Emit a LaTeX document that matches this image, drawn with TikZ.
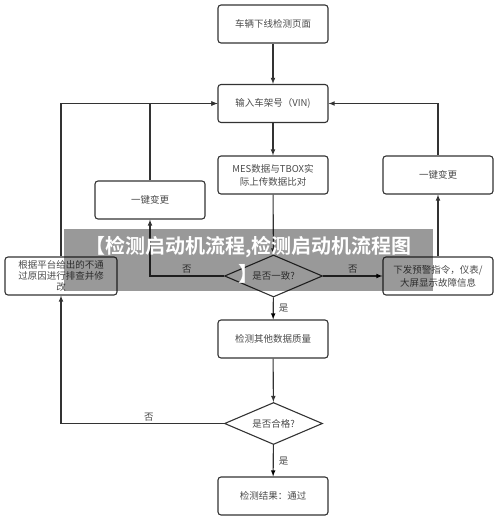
\documentclass[tikz,border=0pt]{standalone}
\usepackage{fontspec}
\setmainfont{Noto Sans CJK SC}[BoldFont={Noto Sans CJK SC Bold}]
\usetikzlibrary{shapes.geometric}
\definecolor{linecol}{HTML}{333333}
\definecolor{textcol}{HTML}{4a4a4a}
\begin{document}
\begin{tikzpicture}[x=1pt,y=-1pt,>=latex]
\tikzstyle{Block} = [draw=linecol, rounded corners=3, line width=1.1, minimum width=110, minimum height=38, text=textcol, font={\fontsize{9.5}{13}\selectfont}, align=center, inner sep=0]
\tikzstyle{Decision} = [draw=linecol, shape=diamond, aspect=2.3, line width=1.1, minimum width=98, minimum height=42, text=textcol, font={\fontsize{9.5}{13}\selectfont}, inner sep=0]
\tikzstyle{Label} = [text=textcol, font={\fontsize{9.5}{13}\selectfont}, inner sep=2]
\tikzstyle{Banner} = [fill=black, fill opacity=0.4, text opacity=1, text=white, minimum width=369, minimum height=62, text width=350, align=center, font={\fontsize{20}{28}\selectfont\bfseries}]
\useasboundingbox (0,0) rectangle (500,521);
\node [Block] (v1) at (273,24) {车辆下线检测页面};
\node [Block] (v2) at (273,103.5) {输入车架号（VIN)};
\node [Block] (v3) at (273,175) {MES数据与TBOX实\\际上传数据比对};
\node [Block] (v4) at (150,200) {一键变更};
\node [Block] (v5) at (438,175) {一键变更};
\node [Decision] (v6) at (273.5,276) {是否一致?};
\node [Block, minimum width=112] (v7) at (61,276) {\smash{\raisebox{-3pt}{\begin{tabular}[c]{@{}c@{}}根据平台给出的不通\\[-2pt]过原因进行排查并修\\[-2pt]改\end{tabular}}}};
\node [Block] (v8) at (438,276) {下发预警指令，仪表/\\大屏显示故障信息};
\node [Block] (v9) at (273,339) {检测其他数据质量};
\node [Decision] (v10) at (273.5,423.5) {是否合格?};
\node [Block] (v11) at (273,496) {检测结果：通过};
\draw [->, draw=linecol, line width=1.1] (v1) -- (v2);
\draw [->, draw=linecol, line width=1.1] (v2) -- (v3);
\draw [->, draw=linecol, line width=1.1] (v3) -- (v6);
\draw [->, draw=linecol, line width=1.1] (v6) -| (v4) node[Label,pos=0.25,above] {否};
\draw [->, draw=linecol, line width=1.1] (v4) |- (v2);
\draw [->, draw=linecol, line width=1.1] (v7) |- (v2);
\draw [->, draw=linecol, line width=1.1] (v6) edge node[Label,midway,above] {否} (v8);
\draw [->, draw=linecol, line width=1.1] (v8) -- (v5);
\draw [->, draw=linecol, line width=1.1] (v5) |- (v2);
\draw [->, draw=linecol, line width=1.1] (v6) edge node[Label,midway,right,xshift=3] {是} (v9);
\draw [->, draw=linecol, line width=1.1] (v9) -- (v10);
\draw [->, draw=linecol, line width=1.1] (v10) -| (v7) node[Label,pos=0.23,above] {否};
\draw [->, draw=linecol, line width=1.1] (v10) edge node[Label,midway,right,xshift=3] {是} (v11);
\node [Banner] (v12) at (248.5,260) {【检测启动机流程,检测启动机流程图\\】};
\end{tikzpicture}
\end{document}
